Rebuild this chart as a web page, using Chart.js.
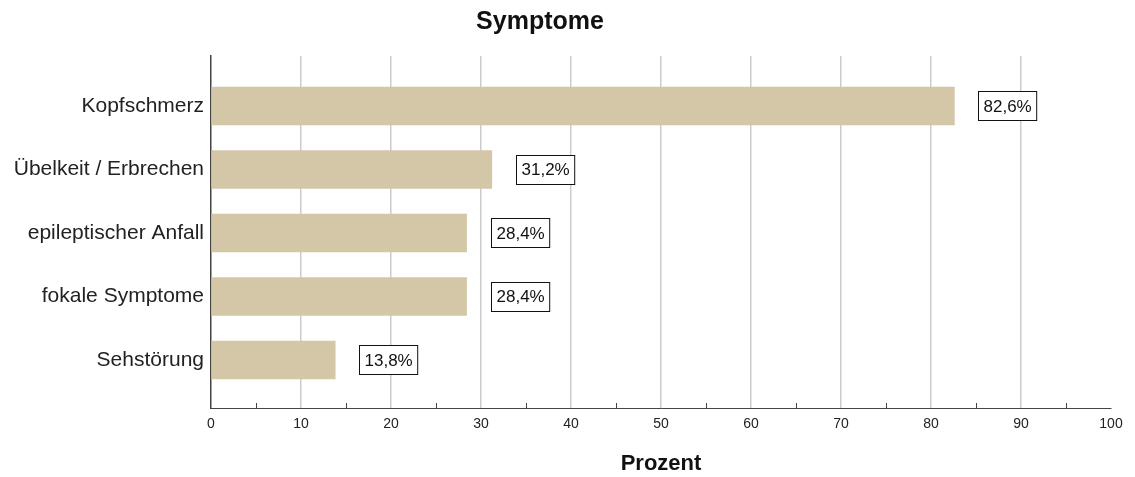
<!DOCTYPE html>
<html>
<head>
<meta charset="utf-8">
<script src="https://cdn.jsdelivr.net/npm/chart.js@4/dist/chart.umd.min.js"></script>
<style>
    body { margin: 0; background: #fff; }
    canvas { display: block; }
</style>
</head>
<body>
<canvas id="symptomChart" width="1135" height="477"></canvas>
<script>
const categories = ["Kopfschmerz", "Übelkeit / Erbrechen", "epileptischer Anfall", "fokale Symptome", "Sehstörung"];
const percents = [82.6, 31.2, 28.4, 28.4, 13.8];
const minorTicks = [5, 15, 25, 35, 45, 55, 65, 75, 85, 95];

const FONT = "'Liberation Sans', Arial, sans-serif";
const barColor = "#d3c7a8";

// title drawn over the plot, slightly left of the canvas centre like the original
const titlePlugin = {
    id: "chartTitle",
    afterDraw(chart) {
        const ctx = chart.ctx;
        ctx.save();
        ctx.font = "bold 25px " + FONT;
        ctx.fillStyle = "#111";
        ctx.textAlign = "center";
        ctx.textBaseline = "middle";
        ctx.fillText("Symptome", 540, 22);
        ctx.restore();
    }
};

// small tick marks at the half steps, pointing up into the plot
const minorTickPlugin = {
    id: "minorTicks",
    afterDraw(chart) {
        const xs = chart.scales.x;
        const ctx = chart.ctx;
        ctx.save();
        ctx.strokeStyle = "#444";
        ctx.lineWidth = 1;
        minorTicks.forEach(v => {
            const px = Math.round(xs.getPixelForValue(v)) + 0.5;
            ctx.beginPath();
            ctx.moveTo(px, xs.top);
            ctx.lineTo(px, xs.top - 5);
            ctx.stroke();
        });
        ctx.restore();
    }
};

// boxed percentage labels right of each bar
const valueLabelPlugin = {
    id: "valueLabels",
    afterDatasetsDraw(chart) {
        const ctx = chart.ctx;
        const meta = chart.getDatasetMeta(0);
        ctx.save();
        ctx.font = "17px " + FONT;
        ctx.textBaseline = "middle";
        ctx.textAlign = "left";
        meta.data.forEach((bar, i) => {
            const text = percents[i].toFixed(1).replace(".", ",") + "%";
            const w = ctx.measureText(text).width + 10;
            const h = 29;
            const bx = Math.round(bar.x + 24) + 0.5;
            const by = Math.round(bar.y - h / 2) + 0.5;
            ctx.fillStyle = "#fff";
            ctx.fillRect(bx, by, w, h);
            ctx.strokeStyle = "#111";
            ctx.lineWidth = 1;
            ctx.strokeRect(bx, by, w, h);
            ctx.fillStyle = "#111";
            ctx.fillText(text, bx + 5, bar.y + 1);
        });
        ctx.restore();
    }
};

const ctx = document.getElementById("symptomChart");
new Chart(ctx, {
    type: "bar",
    data: {
        datasets: [{
            data: percents.map((v, i) => ({ x: v, y: i })),
            backgroundColor: barColor,
            borderWidth: 0,
            barThickness: 38
        }]
    },
    options: {
        indexAxis: "y",
        responsive: false,
        animation: false,
        layout: { padding: { left: 0, right: 24, top: 56, bottom: 0 } },
        plugins: {
            legend: { display: false },
            tooltip: { enabled: false },
            title: { display: false }
        },
        scales: {
            x: {
                type: "linear",
                min: 0,
                max: 100,
                ticks: {
                    stepSize: 10,
                    padding: 8,
                    color: "#222",
                    font: { family: FONT, size: 14 }
                },
                grid: {
                    drawTicks: false,
                    lineWidth: 1.5,
                    color: c => (c.tick && (c.tick.value === 0 || c.tick.value === 100)) ? "rgba(0,0,0,0)" : "#cccccc"
                },
                border: { color: "#444", width: 1 },
                title: {
                    display: true,
                    text: "Prozent",
                    color: "#111",
                    padding: { top: 0, bottom: 0 },
                    font: { family: FONT, size: 22, weight: "bold" }
                },
                afterFit: s => { s.height = 69; }
            },
            y: {
                type: "linear",
                reverse: true,
                offset: false,
                min: -0.787,
                max: 4.756,
                afterBuildTicks: s => { s.ticks = categories.map((c, i) => ({ value: i })); },
                ticks: {
                    padding: 7,
                    color: "#222",
                    font: { family: FONT, size: 21 },
                    callback: v => categories[v]
                },
                grid: { display: false, drawTicks: false, offset: false },
                border: { color: "#444", width: 1.5 },
                afterFit: s => { s.width = 211; }
            }
        }
    },
    plugins: [titlePlugin, minorTickPlugin, valueLabelPlugin]
});
</script>
</body>
</html>
